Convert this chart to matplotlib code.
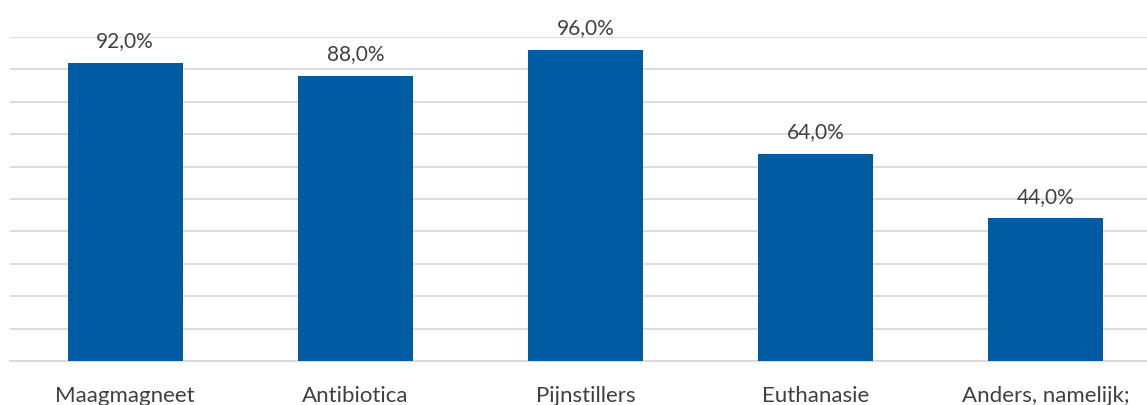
import matplotlib.pyplot as plt

# behandelingen en percentages
categories = ["Maagmagneet", "Antibiotica", "Pijnstillers", "Euthanasie", "Anders, namelijk;"]
values = [92.0, 88.0, 96.0, 64.0, 44.0]

BAR_COLOR = "#005CA2"
TEXT_COLOR = "#404040"
GRID_COLOR = "#D9D9D9"

plt.rcParams["font.family"] = ["Lato", "DejaVu Sans"]

fig = plt.figure(figsize=(11.47, 4.06), dpi=100)
# axes loopt iets voorbij de rechterrand
ax = fig.add_axes([10 / 1147, 44 / 406, 1151 / 1147, 324 / 406])

x = range(len(categories))
ax.bar(x, values, width=0.5, color=BAR_COLOR, zorder=3)

for xi, v in zip(x, values):
    ax.annotate(f"{v:.1f}%".replace(".", ","), (xi, v),
                xytext=(0, 9), textcoords="offset points",
                ha="center", va="bottom", fontsize=15, color=TEXT_COLOR)

ax.set_xlim(-0.5, len(categories) - 0.5)
ax.set_ylim(0, 100)
ax.set_yticks(range(0, 101, 10))
ax.set_yticklabels([])
ax.tick_params(axis="y", length=0)
ax.grid(axis="y", color=GRID_COLOR, linewidth=1.3, zorder=0)

ax.set_xticks(list(x))
ax.set_xticklabels(categories, fontsize=16, color=TEXT_COLOR)
ax.tick_params(axis="x", length=0, pad=17)

for s in ["top", "right", "left"]:
    ax.spines[s].set_visible(False)
ax.spines["bottom"].set_color(GRID_COLOR)
ax.spines["bottom"].set_linewidth(1.3)

fig.savefig("out.png", dpi=100)
